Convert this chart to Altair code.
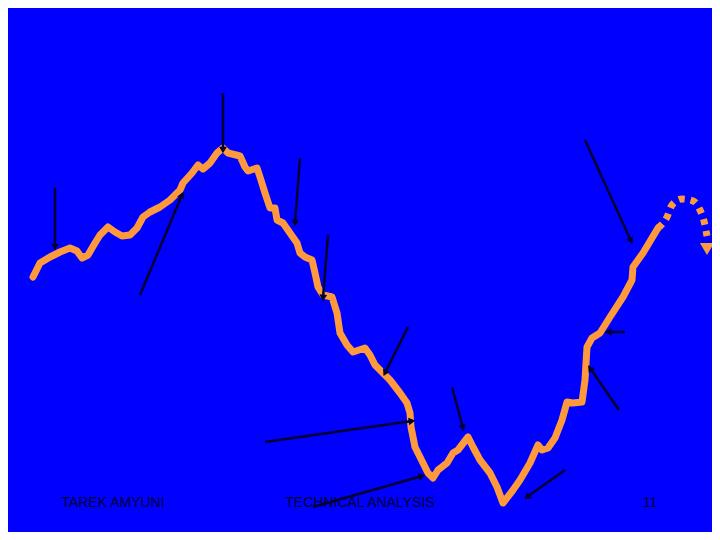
import math
import altair as alt
import pandas as pd

# Orange price path (screen-like coordinates: x right, y down)
line_x = [33, 40, 50, 60, 70, 77, 82, 88, 95, 100, 108, 115, 122, 130, 137, 143, 150, 160, 170, 180,
          183, 192, 198, 203, 210, 217, 223, 228, 240, 245, 248, 257, 260, 265, 270, 275, 277, 283,
          290, 297, 300, 305, 312, 315, 318, 323, 332, 337, 340, 347, 353, 365, 370, 375, 382, 390,
          400, 407, 410, 411, 415, 423, 428, 433, 438, 447, 453, 458, 468, 473, 480, 490, 497, 503,
          513, 520, 530, 538, 542, 548, 555, 562, 567, 573, 582, 585, 587, 592, 600, 610, 623, 632,
          633, 643, 658]
line_y = [277, 263, 257, 252, 248, 251, 258, 255, 243, 235, 227, 232, 236, 235, 228, 217, 212, 207, 200, 190,
          183, 173, 165, 169, 163, 153, 148, 153, 156, 167, 171, 168, 177, 193, 208, 208, 220, 223,
          233, 243, 253, 257, 260, 273, 287, 295, 297, 313, 333, 345, 352, 348, 355, 365, 372, 380,
          393, 403, 413, 427, 447, 463, 473, 478, 470, 463, 453, 450, 437, 447, 460, 473, 487, 503,
          490, 480, 463, 445, 450, 448, 438, 420, 402, 403, 402, 380, 347, 338, 333, 317, 297, 280,
          267, 253, 228]

# Dotted continuation
dash_x = [658, 667, 672, 682, 693, 700, 704, 707]
dash_y = [228, 217, 205, 199, 201, 210, 221, 236]

# Black annotation arrows: start -> tip
arr_x1 = [55, 140, 223, 300, 328, 408, 265, 452, 585, 625, 619, 313, 565]
arr_y1 = [188, 295, 93, 158, 235, 327, 442, 387, 140, 332, 410, 507, 470]
arr_x2 = [55, 182, 223, 295, 323, 385, 412, 463, 631, 608, 590, 422, 527]
arr_y2 = [247, 195, 150, 223, 298, 373, 421, 428, 241, 332, 368, 476, 497]

# Footer texts
foot_text = ["TAREK AMYUNI", "TECHNICAL ANALYSIS", "11"]
foot_x = [113, 360, 650]
foot_y = [503, 503, 503]

BLUE = "#0000FF"
ORANGE = "#FF9A3C"
INK = "#000030"

xs = alt.Scale(domain=[8, 712], nice=False, zero=False)
ys = alt.Scale(domain=[532, 8], nice=False, zero=False)
X = lambda f: alt.X(f, type="quantitative", scale=xs, axis=None)
Y = lambda f: alt.Y(f, type="quantitative", scale=ys, axis=None)

line_df = pd.DataFrame({"x": line_x, "y": line_y, "o": range(len(line_x))})
dash_df = pd.DataFrame({"x": dash_x, "y": dash_y, "o": range(len(dash_x))})

def head_angle(x1, y1, x2, y2):
    a = math.degrees(math.atan2(x2 - x1, -(y2 - y1)))
    return a % 360

arr_df = pd.DataFrame({"x1": arr_x1, "y1": arr_y1, "x2": arr_x2, "y2": arr_y2})
arr_df["ang"] = [head_angle(a, b, c, d) for a, b, c, d in zip(arr_x1, arr_y1, arr_x2, arr_y2)]

dash_head_df = pd.DataFrame({"x": [dash_x[-1]], "y": [dash_y[-1] + 13],
                             "ang": [180]})

foot_df = pd.DataFrame({"t": foot_text, "x": foot_x, "y": foot_y})

price = alt.Chart(line_df).mark_line(color=ORANGE, strokeWidth=7, strokeJoin="round",
                                     strokeCap="round").encode(x=X("x"), y=Y("y"), order="o:Q")
dashed = alt.Chart(dash_df).mark_line(color=ORANGE, strokeWidth=7, strokeDash=[6, 6],
                                      strokeCap="butt", interpolate="monotone").encode(
    x=X("x"), y=Y("y"), order="o:Q")
dash_head = alt.Chart(dash_head_df).mark_point(shape="triangle-up", filled=True, color=ORANGE,
                                               opacity=1, size=200).encode(
    x=X("x"), y=Y("y"), angle=alt.Angle("ang:Q", scale=None))

shafts = alt.Chart(arr_df).mark_rule(color=INK, strokeWidth=2.5).encode(
    x=X("x1"), y=Y("y1"), x2="x2", y2="y2")
heads = alt.Chart(arr_df).mark_point(shape="triangle-up", filled=True, color=INK, opacity=1,
                                     size=60).encode(
    x=X("x2"), y=Y("y2"), angle=alt.Angle("ang:Q", scale=None))

footer = alt.Chart(foot_df).mark_text(font="Liberation Sans", fontSize=14, color=INK,
                                      align="center", baseline="middle").encode(
    x=X("x"), y=Y("y"), text="t:N")

chart = alt.layer(price, dashed, dash_head, shafts, heads, footer).properties(
    width=704, height=524,
    background=BLUE,
    padding=0,
    autosize=alt.AutoSizeParams(type="none"),
).configure_view(stroke=None, fill=BLUE)

chart.save("out.html", embed_options={"renderer": "svg", "actions": False})
